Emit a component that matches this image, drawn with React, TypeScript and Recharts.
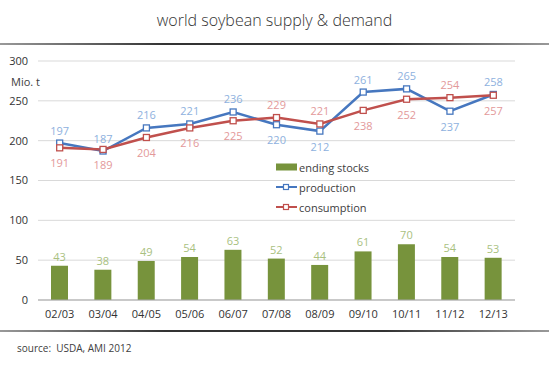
import React from "react";
import {
  ComposedChart,
  Bar,
  Line,
  XAxis,
  YAxis,
  CartesianGrid,
  Legend,
  LabelList,
} from "recharts";

const seasons = ["02/03", "03/04", "04/05", "05/06", "06/07", "07/08", "08/09", "09/10", "10/11", "11/12", "12/13"];
const endingStocks = [43, 38, 49, 54, 63, 52, 44, 61, 70, 54, 53];
const production = [197, 187, 216, 221, 236, 220, 212, 261, 265, 237, 258];
const consumption = [191, 189, 204, 216, 225, 229, 221, 238, 252, 254, 257];
const yTicks = [0, 50, 100, 150, 200, 250, 300];

// label placement per point (above / below the marker)
const prodLabelAbove = [true, true, true, true, true, false, false, true, true, false, true];
const consLabelAbove = [false, false, false, false, false, true, true, false, false, true, false];

const FONT = '"Open Sans", "Noto Sans", sans-serif';
const GREEN = "#77933c";
const BLUE = "#4677bf";
const RED = "#c0504d";

const data = seasons.map((s, i) => ({
  season: s,
  stocks: endingStocks[i],
  production: production[i],
  consumption: consumption[i],
}));

function SquareDot(color: string) {
  return (props: any) => {
    const { cx, cy, index } = props;
    if (cx == null || cy == null) return null;
    return (
      <rect
        key={`dot-${color}-${index}`}
        x={cx - 3}
        y={cy - 3}
        width={6}
        height={6}
        fill="#fff"
        stroke={color}
        strokeWidth={1.3}
      />
    );
  };
}

function lineLabel(above: boolean[], color: string) {
  return (props: any) => {
    const { x, y, value, index } = props;
    const up = above[index];
    return (
      <text
        x={x}
        y={up ? y - 13 : y + 15}
        textAnchor="middle"
        dominantBaseline="central"
        fill={color}
        fontSize={11}
        fontFamily={FONT}
      >
        {value}
      </text>
    );
  };
}

function LegendBox() {
  const row = { display: "flex", alignItems: "center", height: 20 } as const;
  const text = { marginLeft: 2, fontSize: 11, color: "#404040", fontFamily: FONT };
  const lineSwatch = (color: string) => (
    <svg width={21} height={8}>
      <line x1={0} y1={4} x2={21} y2={4} stroke={color} strokeWidth={2} />
      <rect x={7.5} y={1.5} width={5} height={5} fill="#fff" stroke={color} strokeWidth={1.2} />
    </svg>
  );
  return (
    <div>
      <div style={row}>
        <svg width={21} height={8}>
          <rect x={0} y={0.5} width={21} height={7} fill={GREEN} />
        </svg>
        <span style={text}>ending stocks</span>
      </div>
      <div style={row}>
        {lineSwatch(BLUE)}
        <span style={text}>production</span>
      </div>
      <div style={row}>
        {lineSwatch(RED)}
        <span style={text}>consumption</span>
      </div>
    </div>
  );
}

export default function App() {
  return (
    <div
      style={{
        position: "absolute",
        left: 0,
        top: 0,
        width: 549,
        height: 376,
        background: "#fff",
        fontFamily: FONT,
        overflow: "hidden",
      }}
    >
      <div
        style={{
          position: "absolute",
          top: 9,
          left: 0,
          width: 549,
          textAlign: "center",
          fontSize: 16,
          fontWeight: 300,
          color: "#333",
        }}
      >
        world soybean supply &amp; demand
      </div>
      <div
        style={{
          position: "absolute",
          top: 43,
          left: 0,
          width: 549,
          height: 2,
          background: "linear-gradient(to right, #999, #333 30%, #333 70%, #999)",
        }}
      />
      <div
        style={{
          position: "absolute",
          top: 330,
          left: 0,
          width: 549,
          height: 2,
          background: "linear-gradient(to right, #999, #333 30%, #333 70%, #999)",
        }}
      />
      <div
        style={{
          position: "absolute",
          top: 74,
          left: 11,
          fontSize: 11,
          color: "#404040",
        }}
      >
        Mio. t
      </div>
      <div
        style={{
          position: "absolute",
          top: 341,
          left: 17,
          fontSize: 10,
          color: "#404040",
          whiteSpace: "pre",
        }}
      >
        {"source:  USDA, AMI 2012"}
      </div>
      <div style={{ position: "absolute", left: 0, top: 0 }}>
        <ComposedChart
          width={549}
          height={376}
          data={data}
          margin={{ top: 61, right: 34, bottom: 46, left: 0 }}
        >
          <CartesianGrid vertical={false} stroke="#d9d9d9" />
          <XAxis
            dataKey="season"
            tickLine={false}
            tickSize={0}
            tickMargin={10}
            axisLine={{ stroke: "#a6a6a6" }}
            tick={{ fill: "#333", fontSize: 11, fontFamily: FONT }}
            interval={0}
          />
          <YAxis
            domain={[0, 300]}
            ticks={yTicks}
            width={38}
            axisLine={false}
            tickLine={false}
            tickSize={0}
            tickMargin={10}
            tick={{ fill: "#333", fontSize: 11, fontFamily: FONT }}
          />
          <Legend
            layout="vertical"
            align="center"
            verticalAlign="middle"
            content={<LegendBox />}
            wrapperStyle={{ left: 276, top: 157, width: 120 }}
          />
          <Bar
            dataKey="stocks"
            name="ending stocks"
            fill={GREEN}
            barSize={17}
            isAnimationActive={false}
          >
            <LabelList
              dataKey="stocks"
              position="top"
              offset={5}
              fill="#a9c17f"
              fontSize={11}
              fontFamily={FONT}
            />
          </Bar>
          <Line
            dataKey="production"
            name="production"
            type="linear"
            stroke={BLUE}
            strokeWidth={2.5}
            dot={SquareDot(BLUE)}
            activeDot={false}
            isAnimationActive={false}
          >
            <LabelList dataKey="production" content={lineLabel(prodLabelAbove, "#8eb1de")} />
          </Line>
          <Line
            dataKey="consumption"
            name="consumption"
            type="linear"
            stroke={RED}
            strokeWidth={2.5}
            dot={SquareDot(RED)}
            activeDot={false}
            isAnimationActive={false}
          >
            <LabelList dataKey="consumption" content={lineLabel(consLabelAbove, "#e3999a")} />
          </Line>
        </ComposedChart>
      </div>
    </div>
  );
}
